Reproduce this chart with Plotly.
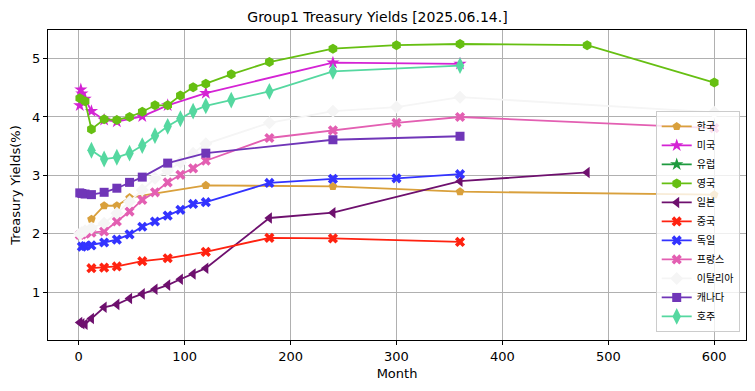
import plotly.graph_objects as go

# ---- data (month, yield %) ----
kr_x = [12, 24, 36, 48, 120, 240, 360, 600]
kr_y = [2.25, 2.48, 2.48, 2.62, 2.83, 2.81, 2.72, 2.67]

us_x = [1, 2, 3, 6, 12, 24, 36, 60, 84, 120, 240, 360]
us_y = [4.20, 4.47, 4.40, 4.31, 4.10, 3.95, 3.92, 4.01, 4.20, 4.41, 4.93, 4.91]

eu_x = []
eu_y = []

uk_x = [1, 6, 12, 24, 36, 48, 60, 72, 84, 96, 108, 120, 144, 180, 240, 300, 360, 480, 600]
uk_y = [4.32, 4.27, 3.79, 3.96, 3.95, 4.00, 4.09, 4.20, 4.20, 4.37, 4.51, 4.57, 4.73, 4.94, 5.17, 5.23, 5.25, 5.23, 4.59]

jp_x = [1, 3, 6, 12, 24, 36, 48, 60, 72, 84, 96, 108, 120, 180, 240, 360, 480]
jp_y = [0.48, 0.46, 0.45, 0.55, 0.74, 0.79, 0.89, 0.97, 1.05, 1.12, 1.22, 1.31, 1.41, 2.27, 2.36, 2.90, 3.05]

cn_x = [12, 24, 36, 60, 84, 120, 180, 240, 360]
cn_y = [1.41, 1.42, 1.44, 1.53, 1.58, 1.69, 1.93, 1.92, 1.86]

de_x = [3, 6, 12, 24, 36, 48, 60, 72, 84, 96, 108, 120, 180, 240, 300, 360]
de_y = [1.78, 1.79, 1.80, 1.85, 1.90, 1.99, 2.12, 2.21, 2.31, 2.41, 2.51, 2.54, 2.87, 2.94, 2.95, 3.02]

fr_x = [1, 3, 6, 12, 24, 36, 48, 60, 72, 84, 96, 108, 120, 180, 240, 300, 360, 600]
fr_y = [1.98, 1.99, 2.00, 2.02, 2.04, 2.21, 2.38, 2.58, 2.71, 2.88, 3.01, 3.12, 3.25, 3.64, 3.77, 3.90, 4.00, 3.81]

it_x = [1, 3, 6, 12, 24, 36, 48, 60, 72, 84, 96, 108, 120, 180, 240, 300, 360, 600]
it_y = [2.00, 2.02, 2.05, 2.10, 2.18, 2.35, 2.55, 2.75, 2.95, 3.08, 3.22, 3.38, 3.54, 3.90, 4.10, 4.17, 4.34, 4.08]

ca_x = [1, 3, 6, 12, 24, 36, 48, 60, 84, 120, 240, 360]
ca_y = [2.70, 2.69, 2.68, 2.67, 2.71, 2.78, 2.88, 2.97, 3.21, 3.38, 3.61, 3.67]

au_x = [12, 24, 36, 48, 60, 72, 84, 96, 108, 120, 144, 180, 240, 360]
au_y = [3.43, 3.28, 3.31, 3.38, 3.51, 3.68, 3.84, 3.97, 4.10, 4.19, 4.29, 4.44, 4.78, 4.88]

names = ["한국", "미국", "유럽", "영국", "일본", "중국", "독일", "프랑스", "이탈리아", "캐나다", "호주"]
xs = [kr_x, us_x, eu_x, uk_x, jp_x, cn_x, de_x, fr_x, it_x, ca_x, au_x]
ys = [kr_y, us_y, eu_y, uk_y, jp_y, cn_y, de_y, fr_y, it_y, ca_y, au_y]
colors = ["#D9A03C", "#D423D4", "#1E9A3E", "#66BF12", "#6E106E", "#FF2210",
          "#3333FF", "#E35FB2", "#F5F5F5", "#7036B8", "#55D8A0"]
symbols = ["pentagon", "star", "star", "hexagon", "triangle-left", "x",
           "x", "x", "diamond", "square", "diamond-tall"]
sizes = [9, 10, 10, 10, 10, 9, 9, 9, 10, 9, 12]

fig = go.Figure()
for n, x, y, c, s, sz in zip(names, xs, ys, colors, symbols, sizes):
    if len(x) == 0:
        x, y = [None], [None]
    fig.add_trace(go.Scatter(
        x=x, y=y, name=n, mode="lines+markers",
        line=dict(color=c, width=1.8),
        marker=dict(color=c, symbol=s, size=sz, line=dict(width=0)),
    ))

axis_common = dict(
    showline=True, linecolor="black", linewidth=1, mirror=True,
    ticks="outside", ticklen=4, tickcolor="black",
    showgrid=True, gridcolor="#b0b0b0", gridwidth=1,
    zeroline=False, automargin=False,
    tickfont=dict(family="DejaVu Sans", size=13, color="black"),
)

fig.update_layout(
    width=755, height=391,
    margin=dict(l=48, r=9, t=30, b=51),
    paper_bgcolor="white", plot_bgcolor="white",
    font=dict(family="DejaVu Sans, Noto Sans CJK KR", color="black"),
    title=dict(text="Group1 Treasury Yields [2025.06.14.]", x=0.5, xanchor="center",
               y=1 - 17 / 391, yanchor="middle", yref="container",
               font=dict(family="DejaVu Sans", size=14, color="black")),
    xaxis=dict(range=[-29, 630], tickvals=[0, 100, 200, 300, 400, 500, 600],
               title=dict(text="Month", font=dict(family="DejaVu Sans", size=13), standoff=6),
               **axis_common),
    yaxis=dict(range=[0.18, 5.49], tickvals=[1, 2, 3, 4, 5],
               title=dict(text="Treasury Yields(%)", font=dict(family="DejaVu Sans", size=13), standoff=8),
               **axis_common),
    legend=dict(x=0.991, xanchor="right", y=0.026, yanchor="bottom",
                bgcolor="rgba(255,255,255,0.8)", bordercolor="#cccccc", borderwidth=1,
                font=dict(family="Noto Sans CJK KR, DejaVu Sans", size=10, color="black"),
                itemwidth=30, tracegroupgap=0),
    showlegend=True,
)

fig.write_html("out.html",
               config={"displayModeBar": False},
               post_script="document.body.style.margin='0';document.body.style.padding='0';")
